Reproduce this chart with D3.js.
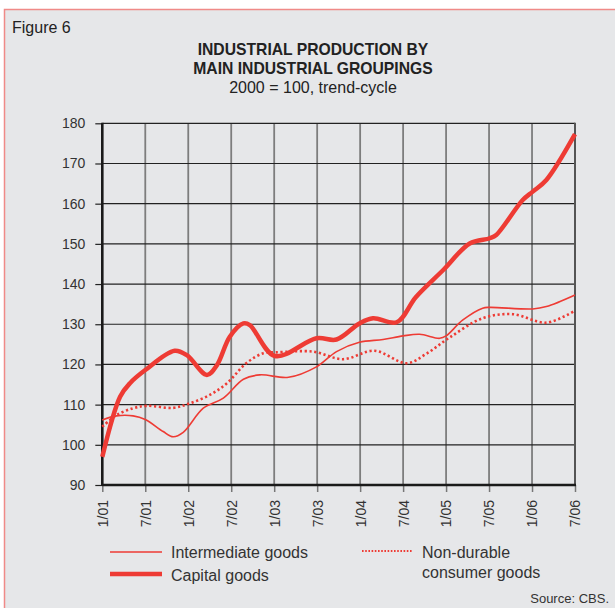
<!DOCTYPE html>
<html>
<head>
<meta charset="utf-8">
<script src="https://cdn.jsdelivr.net/npm/d3@7"></script>
<style>
  body { margin: 0; background: #fff; }
  svg { display: block; font-family: "Liberation Sans", Arial, sans-serif; }
</style>
</head>
<body>
<div id="chart"></div>
<script>
// months counted from January 2001
const tickMonths = [0, 6, 12, 18, 24, 30, 36, 42, 48, 54, 60, 66]
const tickLabels = ['1/01', '7/01', '1/02', '7/02', '1/03', '7/03', '1/04', '7/04', '1/05', '7/05', '1/06', '7/06']
const yTicks = [90, 100, 110, 120, 130, 140, 150, 160, 170, 180]

const capitalMonths = [0, 2.5, 3.9, 6, 10.1, 11.8, 14.6, 16, 17.8, 19.7, 20.6, 24.1, 29.9, 32.7, 35.9, 37.8, 41.1, 43.8, 47.6, 51.3, 54.1, 55, 58.7, 60.1, 62, 66]
const capitalValues = [97, 112, 115.4, 118.6, 123.4, 122.3, 117.4, 119.8, 126.9, 130.2, 129.8, 122.1, 126.5, 126.2, 130.2, 131.5, 130.5, 136.8, 143.5, 150.1, 151.4, 152.2, 160.9, 163, 165.9, 177.3]

const intermediateMonths = [0, 2, 4.3, 6, 8.5, 9.9, 11.3, 14.1, 16.9, 19.7, 22, 26, 29.9, 32.7, 35.9, 39.2, 42, 44.3, 47.1, 48, 50.3, 53.1, 54.1, 60.1, 62, 66]
const intermediateValues = [106.2, 107.2, 107.2, 106.3, 103.3, 102, 103.1, 109.1, 111.6, 116.3, 117.4, 116.8, 119.4, 123.2, 125.5, 126.2, 127.1, 127.5, 126.5, 127.1, 131, 134, 134.2, 133.8, 134.4, 137.3]

const nondurableMonths = [0, 2, 4.3, 6.2, 9.9, 12.2, 15, 17.4, 20.1, 22.5, 24.3, 29.4, 33.6, 38, 42.5, 45.2, 48.5, 53.1, 57.3, 62, 66]
const nondurableValues = [104.5, 107.4, 109.1, 109.7, 109.2, 110.3, 112.4, 115.3, 120.3, 122.8, 123, 123.2, 121.3, 123.4, 120.3, 122.6, 126.7, 131.5, 132.5, 130.4, 133.4]

const W = 615, H = 608
const red = '#ee3b34'

const svg = d3.select('#chart').append('svg')
  .attr('width', W).attr('height', H)

// panel
svg.append('rect')
  .attr('x', 4.5).attr('y', 9.5)
  .attr('width', W).attr('height', H)
  .attr('fill', '#e6e7e9')
  .attr('stroke', '#f08a88').attr('stroke-width', 1.5)

svg.append('text').attr('x', 12).attr('y', 33)
  .attr('font-size', 16).attr('fill', '#222').text('Figure 6')

const titleX = 313
svg.append('text').attr('x', titleX).attr('y', 55).attr('text-anchor', 'middle')
  .attr('font-size', 15.7).attr('font-weight', 'bold').attr('fill', '#222')
  .text('INDUSTRIAL PRODUCTION BY')
svg.append('text').attr('x', titleX).attr('y', 74).attr('text-anchor', 'middle')
  .attr('font-size', 15.7).attr('font-weight', 'bold').attr('fill', '#222')
  .text('MAIN INDUSTRIAL GROUPINGS')
svg.append('text').attr('x', titleX).attr('y', 93).attr('text-anchor', 'middle')
  .attr('font-size', 16).attr('fill', '#222')
  .text('2000 = 100, trend-cycle')

const x = d3.scaleLinear().domain([0, 66]).range([102.3, 575])
const y = d3.scaleLinear().domain([90, 180]).range([485, 123.3])

const g = svg.append('g')

// vertical grid
g.selectAll('.vgrid').data(tickMonths.slice(1, -1)).enter().append('line')
  .attr('x1', d => x(d)).attr('x2', d => x(d))
  .attr('y1', y(180)).attr('y2', y(90))
  .attr('stroke', '#7d7d7d').attr('stroke-width', 1.8)

// horizontal grid
g.selectAll('.hgrid').data(yTicks.slice(1)).enter().append('line')
  .attr('x1', x(0)).attr('x2', x(66))
  .attr('y1', d => y(d)).attr('y2', d => y(d))
  .attr('stroke', '#222').attr('stroke-width', 1.2)

// right frame
g.append('line').attr('x1', x(66)).attr('x2', x(66))
  .attr('y1', y(180) - 0.6).attr('y2', y(90))
  .attr('stroke', '#555').attr('stroke-width', 2)

const yAxis = d3.axisLeft(y).tickValues(yTicks).tickSize(7).tickPadding(10)
const yg = svg.append('g').attr('transform', `translate(${x(0)},0)`).call(yAxis)
yg.select('.domain').remove()
yg.selectAll('.tick line').attr('stroke', '#222').attr('stroke-width', 1.2)
yg.selectAll('.tick text').attr('font-size', 14).attr('fill', '#333')
  .attr('font-family', '"Liberation Sans", Arial, sans-serif')

const xAxis = d3.axisBottom(x).tickValues(tickMonths).tickSize(7)
  .tickFormat((d, i) => tickLabels[i])
const xg = svg.append('g').attr('transform', `translate(0,${y(90)})`).call(xAxis)
xg.select('.domain').remove()
xg.selectAll('.tick line').attr('stroke', '#777').attr('stroke-width', 1.5)
xg.selectAll('.tick text')
  .attr('font-size', 14).attr('fill', '#333')
  .attr('font-family', '"Liberation Sans", Arial, sans-serif')
  .attr('transform', 'rotate(-90)')
  .attr('text-anchor', 'end')
  .attr('x', -15).attr('y', 0).attr('dy', '0.35em')

// axes lines
svg.append('line').attr('x1', x(0)).attr('x2', x(0))
  .attr('y1', y(180) - 0.6).attr('y2', y(90) + 1)
  .attr('stroke', '#1a1a1a').attr('stroke-width', 2.6)
svg.append('line').attr('x1', x(0)).attr('x2', x(66) + 1)
  .attr('y1', y(90)).attr('y2', y(90))
  .attr('stroke', '#1a1a1a').attr('stroke-width', 2.4)

const line = d3.line()
  .x(d => x(d[0])).y(d => y(d[1]))
  .curve(d3.curveCatmullRom.alpha(0.5))

const series = [
  { months: intermediateMonths, values: intermediateValues, width: 1.6, dash: null },
  { months: nondurableMonths, values: nondurableValues, width: 2.6, dash: '2.2,2.6' },
  { months: capitalMonths, values: capitalValues, width: 4.5, dash: null }
]

series.forEach(s => {
  svg.append('path')
    .datum(d3.zip(s.months, s.values))
    .attr('d', line)
    .attr('fill', 'none')
    .attr('stroke', red)
    .attr('stroke-width', s.width)
    .attr('stroke-dasharray', s.dash)
    .attr('stroke-linejoin', 'round')
})

// legend
const legend = svg.append('g')
legend.append('line').attr('x1', 110).attr('x2', 162).attr('y1', 552).attr('y2', 552)
  .attr('stroke', red).attr('stroke-width', 1.6)
legend.append('text').attr('x', 171).attr('y', 558).attr('font-size', 16).attr('fill', '#333')
  .text('Intermediate goods')
legend.append('line').attr('x1', 110).attr('x2', 162).attr('y1', 574).attr('y2', 574)
  .attr('stroke', red).attr('stroke-width', 4.5)
legend.append('text').attr('x', 171).attr('y', 581).attr('font-size', 16).attr('fill', '#333')
  .text('Capital goods')
legend.append('line').attr('x1', 362).attr('x2', 413).attr('y1', 551).attr('y2', 551)
  .attr('stroke', red).attr('stroke-width', 2).attr('stroke-dasharray', '1.6,1.6')
legend.append('text').attr('x', 422).attr('y', 558).attr('font-size', 16).attr('fill', '#333')
  .text('Non-durable')
legend.append('text').attr('x', 422).attr('y', 578).attr('font-size', 16).attr('fill', '#333')
  .text('consumer goods')

svg.append('text').attr('x', 609).attr('y', 603).attr('text-anchor', 'end')
  .attr('font-size', 13).attr('fill', '#333').text('Source: CBS.')
</script>
</body>
</html>
